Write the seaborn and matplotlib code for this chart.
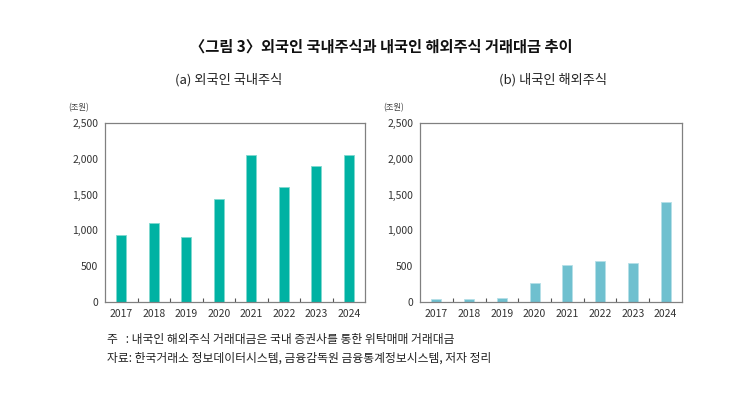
import matplotlib
matplotlib.use("Agg")
import matplotlib.pyplot as plt
import seaborn as sns
import pandas as pd
from matplotlib.ticker import FuncFormatter, FixedLocator

years = ["2017", "2018", "2019", "2020", "2021", "2022", "2023", "2024"]
foreign_domestic = [935, 1098, 902, 1435, 2050, 1612, 1905, 2050]
resident_overseas = [42, 42, 60, 272, 514, 570, 548, 1392]
yticks = [0, 500, 1000, 1500, 2000, 2500]

title = "〈그림 3〉외국인 국내주식과 내국인 해외주식 거래대금 추이"
sub_a = "(a) 외국인 국내주식"
sub_b = "(b) 내국인 해외주식"
unit = "(조원)"
note1 = "주   : 내국인 해외주식 거래대금은 국내 증권사를 통한 위탁매매 거래대금"
note2 = "자료: 한국거래소 정보데이터시스템, 금융감독원 금융통계정보시스템, 저자 정리"

sns.set_theme(style="white")
plt.rcParams['font.family'] = ['Noto Sans CJK KR', 'DejaVu Sans']

W, H = 740, 395
fig = plt.figure(figsize=(W / 100, H / 100), dpi=100)
fig.patch.set_facecolor("white")

def panel(rect, values, color, edge):
    ax = fig.add_axes(rect)
    df = pd.DataFrame({"year": years, "value": values})
    sns.barplot(data=df, x="year", y="value", color=color, width=0.31,
                edgecolor=edge, linewidth=0.6, saturation=1, ax=ax)
    ax.set_ylim(0, 2500)
    ax.set_xlim(-0.5, len(years) - 0.5)
    ax.yaxis.set_major_locator(FixedLocator(yticks))
    ax.yaxis.set_major_formatter(FuncFormatter(lambda v, p: f"{int(v):,}"))
    ax.set_xlabel("")
    ax.set_ylabel("")
    for s in ax.spines.values():
        s.set_visible(True)
        s.set_color("#808080")
        s.set_linewidth(0.9)
    ax.tick_params(axis="both", which="major", length=0, labelsize=7.5,
                   labelcolor="#333333", pad=5)
    ax.set_xticks([i + 0.5 for i in range(len(years) - 1)], minor=True)
    ax.tick_params(axis="x", which="minor", direction="in", length=3,
                   width=0.8, color="#555555", bottom=True)
    ax.text(-0.1, 1.085, unit, transform=ax.transAxes, fontsize=6,
            color="#444444", ha="center", va="center")
    return ax

ax1 = panel([105 / W, 93 / H, 260 / W, 179 / H], foreign_domestic, "#00B2A3", "#7FD8CF")
ax2 = panel([420 / W, 93 / H, 262 / W, 179 / H], resident_overseas, "#6FC0CF", "#B5E0E8")

fig.text(381 / W, 1 - 47 / H, title, fontsize=11, fontweight="bold",
         ha="center", va="center", color="#111111")
fig.text(229 / W, 1 - 80 / H, sub_a, fontsize=9.5, ha="center", va="center", color="#222222")
fig.text(553 / W, 1 - 80 / H, sub_b, fontsize=9.5, ha="center", va="center", color="#222222")
fig.text(107 / W, 1 - 340 / H, note1, fontsize=8.5, ha="left", va="center", color="#222222")
fig.text(107 / W, 1 - 358 / H, note2, fontsize=8.5, ha="left", va="center", color="#222222")

fig.savefig("out.png", dpi=100, facecolor="white")
